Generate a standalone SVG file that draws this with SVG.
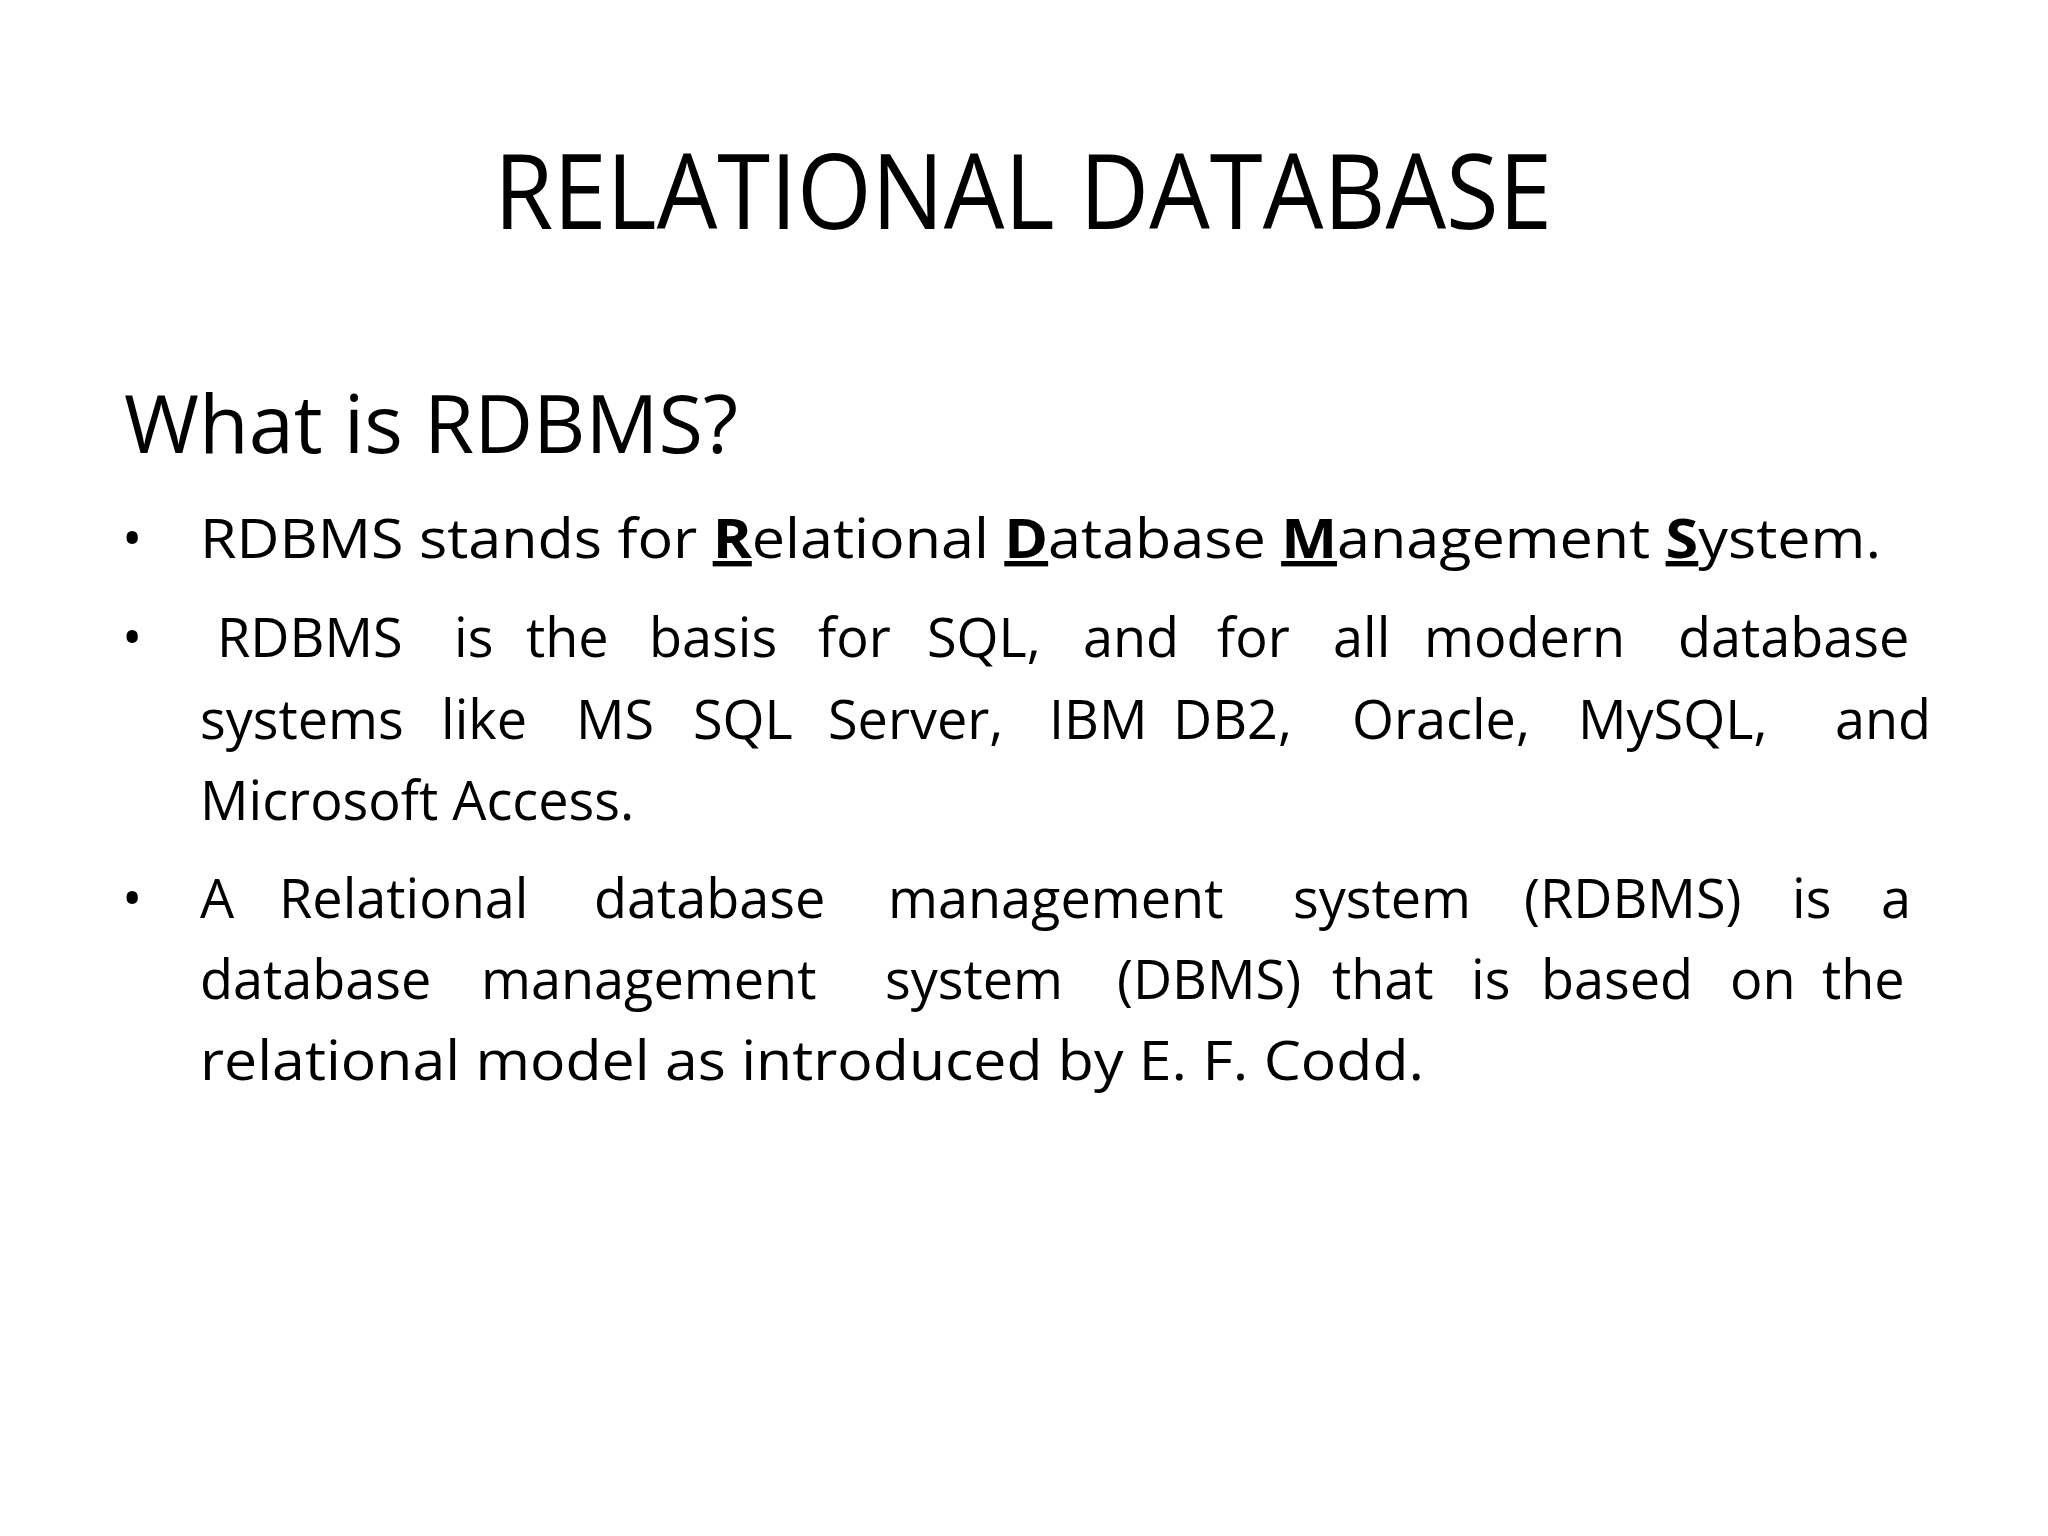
<svg xmlns="http://www.w3.org/2000/svg" width="2048" height="1536" viewBox="0 0 2048 1536">
<style>
.t{font-family:"Open Sans","Liberation Sans",sans-serif;fill:#000}
.b{font-size:54px}
.u{font-weight:bold;text-decoration:underline}
</style>
<rect width="2048" height="1536" fill="#fff"/>
<g id="title"><text class="t" x="494" y="229" font-size="104" textLength="1058" lengthAdjust="spacingAndGlyphs">RELATIONAL DATABASE</text></g>
<g id="subtitle"><text class="t" x="124" y="453" font-size="80" textLength="614" lengthAdjust="spacingAndGlyphs">What is RDBMS?</text></g>
<g id="bullets" class="t b">
<text x="122" y="558">•</text>
<text x="122" y="657">•</text>
<text x="122" y="918">•</text>
</g>
<g id="b1"><text class="t b" x="200" y="558" textLength="1681" lengthAdjust="spacingAndGlyphs">RDBMS stands for <tspan class="u">R</tspan>elational <tspan class="u">D</tspan>atabase <tspan class="u">M</tspan>anagement <tspan class="u">S</tspan>ystem.</text></g>
<g id="b2" class="t b">
<text y="657"><tspan x="217">RDBMS</tspan><tspan x="454">is</tspan><tspan x="526">the</tspan><tspan x="649">basis</tspan><tspan x="818">for</tspan><tspan x="927">SQL,</tspan><tspan x="1083">and</tspan><tspan x="1217">for</tspan><tspan x="1333">all</tspan><tspan x="1424">modern</tspan><tspan x="1678">database</tspan></text>
<text y="739"><tspan x="200">systems</tspan><tspan x="441">like</tspan><tspan x="576">MS</tspan><tspan x="693">SQL</tspan><tspan x="828">Server,</tspan><tspan x="1049">IBM</tspan><tspan x="1173">DB2,</tspan><tspan x="1352">Oracle,</tspan><tspan x="1578">MySQL,</tspan><tspan x="1835">and</tspan></text>
<text x="200" y="820">Microsoft Access.</text>
</g>
<g id="b3" class="t b">
<text y="918"><tspan x="200">A</tspan><tspan x="279">Relational</tspan><tspan x="594">database</tspan><tspan x="888">management</tspan><tspan x="1293">system</tspan><tspan x="1524">(RDBMS)</tspan><tspan x="1792">is</tspan><tspan x="1881">a</tspan></text>
<text y="999"><tspan x="200">database</tspan><tspan x="481">management</tspan><tspan x="885">system</tspan><tspan x="1117">(DBMS)</tspan><tspan x="1332">that</tspan><tspan x="1471">is</tspan><tspan x="1541">based</tspan><tspan x="1730">on</tspan><tspan x="1822">the</tspan></text>
<text x="200" y="1080" textLength="1224" lengthAdjust="spacingAndGlyphs">relational model as introduced by E. F. Codd.</text>
</g>
</svg>
